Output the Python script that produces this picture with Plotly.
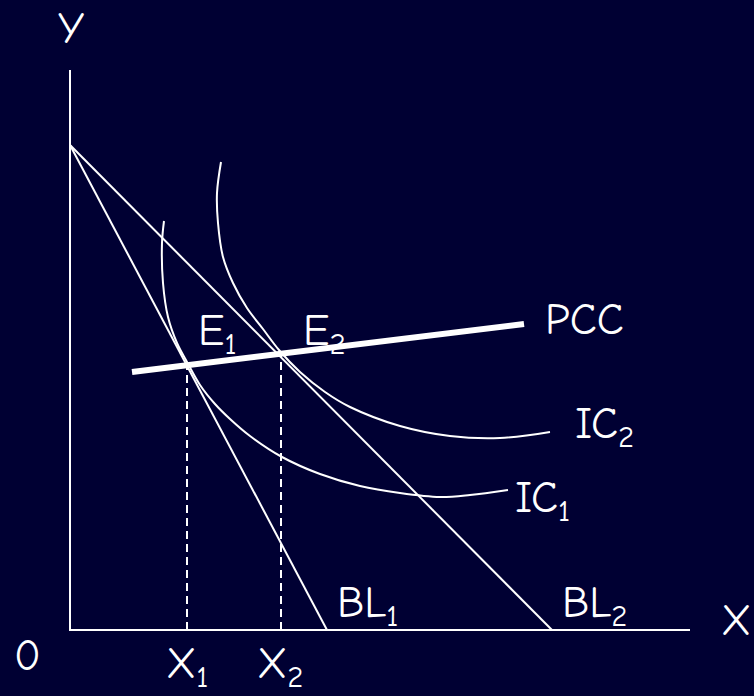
import plotly.graph_objects as go

# ---- data (origin O at 0,0; units of the drawing) ----
axis_x = [0, 0, 620]
axis_y = [560, 0, 0]

budget_y_intercept = 485
bl1_x_intercept = 257
bl2_x_intercept = 482

pcc_x = [62, 454]
pcc_y = [258, 306]

x1_pos, e1_y = 117, 266
x2_pos, e2_y = 211, 278

ic1_x = [94, 92, 93, 98, 107, 117, 130, 145, 160, 180, 212, 250, 290, 330, 370, 400, 438]
ic1_y = [409, 387, 347, 313, 287, 268, 245, 226, 211, 194, 173, 156, 144, 137, 133, 135, 140]

ic2_x = [151, 147, 148, 153, 163, 177, 193, 209, 230, 255, 280, 330, 380, 430, 480]
ic2_y = [468, 437, 407, 373, 347, 322, 301, 280, 258, 238, 223, 204, 194, 192, 198]

labels = ["Y", "X", "0", "X<sub>1</sub>", "X<sub>2</sub>", "BL<sub>1</sub>", "BL<sub>2</sub>",
          "E<sub>1</sub>", "E<sub>2</sub>", "PCC", "IC<sub>2</sub>", "IC<sub>1</sub>"]
label_x = [-14, 649, -58, 94, 185, 265, 490, 126, 231, 473, 503, 443]
label_y = [602, 10, -25, -36, -36, 25, 25, 297, 297, 311, 204, 130]

BG = "#000033"
FG = "white"
FONT = "Comic Sans MS, Comic Neue, DejaVu Sans, sans-serif"

fig = go.Figure()

def line(x, y, width=2, dash=None, shape="linear"):
    fig.add_trace(go.Scatter(x=x, y=y, mode="lines", hoverinfo="skip",
                             line=dict(color=FG, width=width, dash=dash, shape=shape)))

line(axis_x, axis_y, 2)
line([0, bl1_x_intercept], [budget_y_intercept, 0], 2)
line([0, bl2_x_intercept], [budget_y_intercept, 0], 2)
line(ic1_x, ic1_y, 2, shape="spline")
line(ic2_x, ic2_y, 2, shape="spline")
line([x1_pos, x1_pos], [0, e1_y], 2, dash="8px,5px")
line([x2_pos, x2_pos], [0, e2_y], 2, dash="8px,5px")
line(pcc_x, pcc_y, 6)

for t, x, y in zip(labels, label_x, label_y):
    fig.add_annotation(x=x, y=y, text=t, showarrow=False, xanchor="left", yanchor="middle",
                       font=dict(family=FONT, size=44, color=FG))

fig.update_layout(
    width=754, height=696,
    margin=dict(l=0, r=0, t=0, b=0),
    paper_bgcolor=BG, plot_bgcolor=BG,
    showlegend=False,
    xaxis=dict(range=[-70, 684], visible=False, fixedrange=True),
    yaxis=dict(range=[-66, 630], visible=False, fixedrange=True),
)

fig.write_html("out.html",
               config={"displayModeBar": False},
               post_script="document.body.style.margin='0';document.body.style.overflow='hidden';"
                           "document.body.style.background='#000033';")
